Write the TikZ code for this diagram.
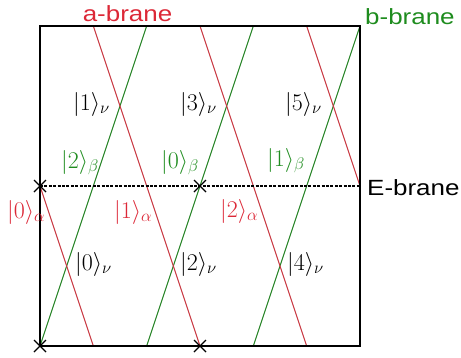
\documentclass[tikz,border=0pt]{standalone}
\usepackage{fix-cm}
\usepackage{fontspec}
\usetikzlibrary{calc}
\newfontfamily\labfont{Liberation Sans}
\definecolor{brRed}{RGB}{200,55,65}
\definecolor{brGreen}{RGB}{35,130,35}
\definecolor{txRed}{RGB}{220,40,55}
\definecolor{txGreen}{RGB}{30,140,30}
\tikzset{
  redline/.style={draw=brRed, line width=1pt},
  greenline/.style={draw=brGreen, line width=1pt},
  boxline/.style={draw=black, line width=1.8pt},
  eline/.style={draw=black, line width=1.6pt, dash pattern=on 3pt off 1.4pt},
  crossline/.style={draw=black, line width=1.1pt},
  ket/.style={anchor=base west, inner sep=0pt, font=\fontsize{24}{28}\selectfont},
  branelab/.style={inner sep=0pt, font=\labfont\fontsize{22}{26}\selectfont},
}
\newcommand{\stretchtxt}[1]{\scalebox{1.18}[1]{#1}}
\newcommand{\kt}[2]{$|#1\rangle_{#2}$}
\begin{document}
\begin{tikzpicture}[x=1pt,y=-1pt]
\useasboundingbox (0,0) rectangle (461,357);
% corners
\coordinate (TL) at (40,26);
\coordinate (TR) at (360,26);
\coordinate (BL) at (40,346);
\coordinate (BR) at (360,346);
\coordinate (EL) at (40,186);
\coordinate (ER) at (360,186);
\coordinate (XE) at (200,186);
\coordinate (XB) at (200,346);
% green (b-brane) lines
\coordinate (g1b) at (40,346);     \coordinate (g1t) at (146.67,26);
\coordinate (g2b) at (146.67,346); \coordinate (g2t) at (253.33,26);
\coordinate (g3b) at (253.33,346); \coordinate (g3t) at (360,26);
% red (a-brane) lines
\coordinate (r1t) at (93.33,26);  \coordinate (r1b) at (200,346);
\coordinate (r2t) at (200,26);    \coordinate (r2b) at (306.67,346);
\coordinate (r3t) at (306.67,26); \coordinate (r3e) at (360,186);
\coordinate (r4e) at (40,186);    \coordinate (r4b) at (93.33,346);

\draw[greenline] (g1b) -- (g1t);
\draw[greenline] (g2b) -- (g2t);
\draw[greenline] (g3b) -- (g3t);
\draw[redline] (r1t) -- (r1b);
\draw[redline] (r2t) -- (r2b);
\draw[redline] (r3t) -- (r3e);
\draw[redline] (r4e) -- (r4b);

\draw[eline] (EL) -- (ER);
\draw[boxline] (TL) -- (TR) -- (BR) -- (BL) -- cycle;

\foreach \p in {EL,XE,BL,XB}{
  \draw[crossline] ($(\p)+(-6,-6)$) -- ($(\p)+(6,6)$);
  \draw[crossline] ($(\p)+(-6,6)$) -- ($(\p)+(6,-6)$);
}

% nu labels
\node[ket] (n1) at (73,110) {\kt{1}{\nu}};
\node[ket] (n3) at (180,110) {\kt{3}{\nu}};
\node[ket] (n5) at (285,110) {\kt{5}{\nu}};
\node[ket] (n0) at (75,270) {\kt{0}{\nu}};
\node[ket] (n2) at (180,270) {\kt{2}{\nu}};
\node[ket] (n4) at (287,270) {\kt{4}{\nu}};
% beta labels
\node[ket, text=txGreen] (b2) at (61,168) {\kt{2}{\beta}};
\node[ket, text=txGreen] (b0) at (161,168) {\kt{0}{\beta}};
\node[ket, text=txGreen] (b1) at (267,166) {\kt{1}{\beta}};
% alpha labels
\node[ket, text=txRed] (a0) at (7,218) {\kt{0}{\alpha}};
\node[ket, text=txRed] (a1) at (114,218) {\kt{1}{\alpha}};
\node[ket, text=txRed] (a2) at (220,217) {\kt{2}{\alpha}};

% brane labels
\node[branelab, text=txRed, anchor=base] (alab) at (127.5,21) {\stretchtxt{a-brane}};
\node[branelab, text=txGreen, anchor=base west] (blab) at (365,24) {\stretchtxt{b-brane}};
\node[branelab, text=black, anchor=base west] (elab) at (367,195) {\stretchtxt{E-brane}};
\end{tikzpicture}
\end{document}
